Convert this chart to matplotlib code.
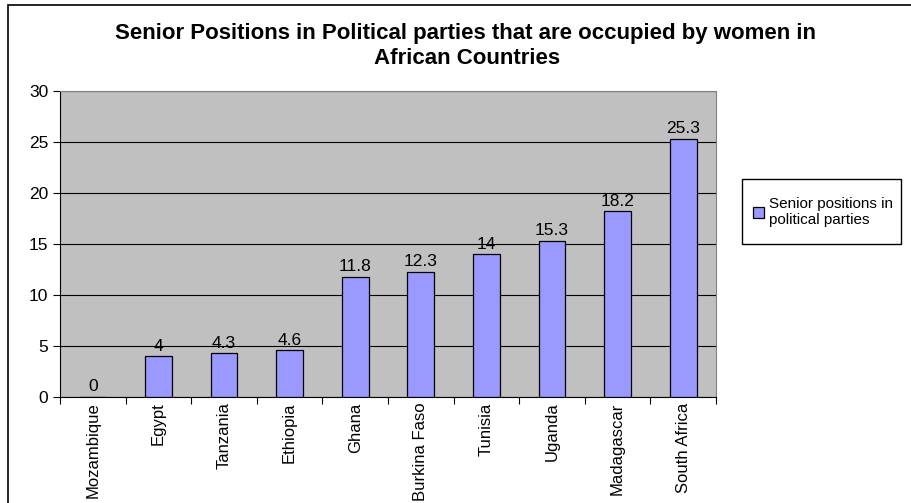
import matplotlib
matplotlib.use("Agg")
import matplotlib.pyplot as plt
from matplotlib.patches import Rectangle

plt.rcParams['font.family'] = ['Liberation Sans', 'DejaVu Sans']

# Data
countries = ['Mozambique', 'Egypt', 'Tanzania', 'Ethiopia', 'Ghana',
             'Burkina Faso', 'Tunisia', 'Uganda', 'Madagascar', 'South Africa']
values = [0, 4, 4.3, 4.6, 11.8, 12.3, 14, 15.3, 18.2, 25.3]
value_labels = ['0', '4', '4.3', '4.6', '11.8', '12.3', '14', '15.3', '18.2', '25.3']
y_ticks = [0, 5, 10, 15, 20, 25, 30]

fig = plt.figure(figsize=(9.11, 5.03), dpi=100)
ax = fig.add_axes([60 / 911, 1 - 397 / 503, 656 / 911, 306 / 503])

# outer chart frame
fig.patches.append(Rectangle((8 / 911, -0.1), 1.2, 1 - 5 / 503 + 0.1,
                             transform=fig.transFigure, fill=False,
                             edgecolor='black', linewidth=1.2))
# legend box
fig.patches.append(Rectangle((742 / 911, 1 - 244 / 503), 159 / 911, 65 / 503,
                             transform=fig.transFigure, fill=False,
                             edgecolor='black', linewidth=1.0))

ax.set_facecolor('#C0C0C0')
x = range(len(countries))
bars = ax.bar(x, values, width=0.41, color='#9999FF', edgecolor='black',
              linewidth=0.9, zorder=3, label='Senior positions in\npolitical parties')

for xi, v, lab in zip(x, values, value_labels):
    ax.text(xi, v + 0.25, lab, ha='center', va='bottom', fontsize=12.5)

ax.set_xlim(-0.5, len(countries) - 0.5)
ax.set_ylim(0, 30)
ax.set_yticks(y_ticks)
ax.yaxis.grid(True, color='black', linewidth=0.8, zorder=1)
ax.set_axisbelow(True)

# category ticks at the boundaries, labels centred under bars
ax.set_xticks([i - 0.5 for i in range(len(countries) + 1)])
ax.set_xticklabels([])
ax.set_xticks(list(x), minor=True)
ax.set_xticklabels(countries, minor=True, rotation=90, fontsize=12, va='top')
ax.tick_params(axis='x', which='minor', length=0, pad=4)
ax.tick_params(axis='x', which='major', length=5, direction='out')
ax.tick_params(axis='y', length=5, direction='out', labelsize=12.5)

ax.spines['top'].set_color('#808080')
ax.spines['right'].set_color('#808080')
ax.spines['left'].set_color('black')
ax.spines['bottom'].set_color('black')

fig.text(466 / 911, 1 - 33 / 503, 'Senior Positions in Political parties that are occupied by women in',
         ha='center', va='center', fontsize=16, fontweight='bold')
fig.text(467 / 911, 1 - 59 / 503, 'African Countries',
         ha='center', va='center', fontsize=16, fontweight='bold')

fig.legend(loc='center left', bbox_to_anchor=(750 / 911, 1 - 212 / 503),
           fontsize=11, frameon=False, handlelength=0.7, handleheight=0.7,
           borderpad=0.2, handletextpad=0.35, borderaxespad=0,
           labelspacing=0.6)

fig.savefig('out.png', dpi=100)
